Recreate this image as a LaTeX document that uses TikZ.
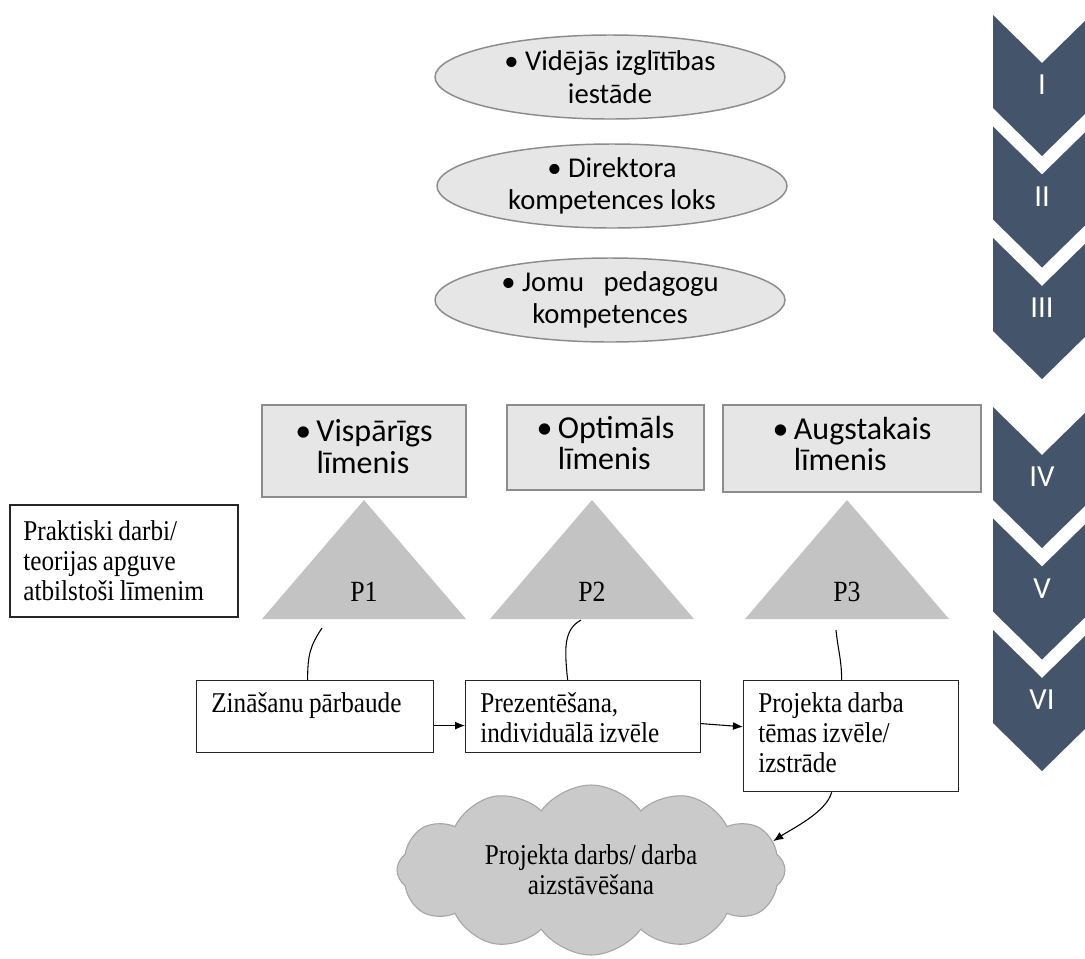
\documentclass[tikz,border=0pt]{standalone}
\usepackage{fontspec}
\setmainfont{Liberation Serif}[FakeStretch=0.88,WordSpace=0.85]
\newfontfamily\calfont{Carlito}
\usetikzlibrary{shapes.geometric,shapes.symbols,arrows.meta}
\definecolor{chevblue}{HTML}{44546A}
\definecolor{lightfill}{HTML}{E7E6E6}
\definecolor{edgegray}{HTML}{8C8C8C}
\definecolor{trifill}{HTML}{C3C3C3}
\definecolor{cloudfill}{HTML}{CACACA}
\definecolor{cloudedge}{HTML}{A5A5A5}
\newcommand\lvl[2]{\textbullet\hspace{4pt}\begin{tabular}[t]{@{}l@{}}#1\\#2\end{tabular}}
\tikzset{
  ovalnode/.style={ellipse, draw=edgegray, fill=lightfill, line width=1.1pt, minimum width=262.5pt, minimum height=63pt, inner sep=0pt, align=center, font=\calfont\fontsize{21.5}{24.5}\selectfont},
  levelbox/.style={rectangle, draw=edgegray, fill=lightfill, line width=1.1pt, inner sep=0pt, font=\calfont\fontsize{24}{23}\selectfont},
  taskbox/.style={rectangle, draw=black!85, fill=white, line width=0.9pt, anchor=north west, align=flush left, inner xsep=11pt, inner ysep=6pt, text height=18pt, font=\fontsize{21.5}{22.5}\selectfont},
  notebox/.style={rectangle, draw=black!85, fill=white, line width=0.9pt, align=flush left, inner xsep=10pt, minimum height=84pt, font=\fontsize{21.5}{22.5}\selectfont},
  cloudnode/.style={cloud, cloud puffs=12, cloud puff arc=110, aspect=2.3, draw=cloudedge, fill=cloudfill, line width=0.8pt, minimum width=291pt, minimum height=127.5pt, inner sep=0pt, align=center, font=\fontsize{21.5}{22.5}\selectfont},
  chevlabel/.style={text=white, font=\calfont\fontsize{23}{24}\selectfont},
  plabel/.style={font=\fontsize{22}{22}\selectfont},
  link/.style={line width=0.8pt},
  arr/.style={line width=0.8pt, -{Latex[length=7.5pt,width=6pt]}}
}
\begin{document}
\begin{tikzpicture}[x=0.75pt,y=-0.75pt]
\fill[white] (0,0) rectangle (1085,958);
\useasboundingbox (0,0) rectangle (1085,958);
\foreach \t/\y in {I/15, II/126.5, III/238, IV/407, V/518.5, VI/630}{
  \fill[chevblue] (993,\y) -- (1042,\y+48) -- (1091,\y) -- (1091,\y+93) -- (1042,\y+141) -- (993,\y+93) -- cycle;
  \node[chevlabel] (ch\t) at (1042,\y+70) {\t};
}
\node[ovalnode] (e1) at (610,77) {\textbullet\ Vidējās izglītības\\iestāde};
\node[ovalnode] (e2) at (612,186) {\textbullet\ Direktora\\kompetences loks};
\node[ovalnode] (e3) at (610,300) {\textbullet\ Jomu\ \ \ pedagogu\\kompetences};
\node[levelbox, minimum width=153pt, minimum height=69pt] (b1) at (364,451) {\lvl{Vispārīgs}{līmenis}};
\node[levelbox, minimum width=147.75pt, minimum height=63.75pt] (b2) at (605.5,447.5) {\lvl{Optimāls}{līmenis}};
\node[levelbox, minimum width=193.5pt, minimum height=65.25pt] (b3) at (852,448.5) {\lvl{Augstakais}{līmenis}};
\foreach \n/\x in {1/364, 2/592, 3/847}{
  \fill[trifill] (\x-102,619) -- (\x,500) -- (\x+102,619) -- cycle;
  \node[plabel] (p\n) at (\x,592) {P\n};
}
\node[notebox, text width=151pt] (note) at (124,561) {Praktiski darbi/\\teorijas apguve\\atbilstoši līmenim};
\node[taskbox, text width=155.75pt, text depth=24pt] (z) at (196,680) {Zināšanu pārbaude};
\node[taskbox, text width=154.25pt, text depth=24pt] (pr) at (465,680) {Prezentēšana,\\individuālā izvēle};
\node[taskbox, text width=139.25pt, text depth=53.25pt] (pj) at (743,680) {Projekta darba\\tēmas izvēle/\\izstrāde};
\node[cloudnode] (cl) at (591,870) {Projekta darbs/ darba\\aizstāvēšana};
\coordinate (c1) at (322,628);
\coordinate (c2) at (581,620);
\coordinate (c3) at (836,630);
\draw[link] (c1) .. controls +(-12,18) and +(0,-25) .. ([xshift=-5.6pt]z.north);
\draw[link] (c2) .. controls +(-18,10) and +(-3,-30) .. ([xshift=-11.6pt]pr.north);
\draw[link] (c3) .. controls +(2,20) and +(0,-20) .. ([xshift=-7.1pt]pj.north);
\draw[arr] ([yshift=-6.75pt]z.east) -- ([yshift=-6.75pt]pr.west);
\draw[arr] ([yshift=-5.25pt]pr.east) -- ([yshift=7pt]pj.west);
\draw[arr] ([xshift=-14.6pt]pj.south) .. controls +(-5,20) and +(18,-12) .. (cl.9);
\end{tikzpicture}
\end{document}
